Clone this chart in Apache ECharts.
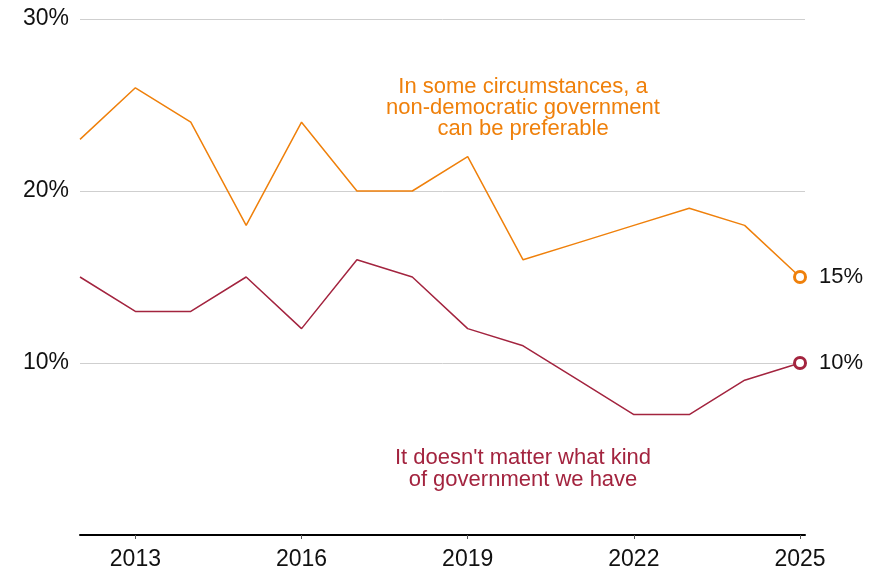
<!DOCTYPE html>
<html>
<head>
<meta charset="utf-8">
<script src="https://cdn.jsdelivr.net/npm/echarts@6/dist/echarts.min.js"></script>
<style>
  html, body { margin: 0; padding: 0; background: #fff; }
  #chart { width: 881px; height: 571px; }
</style>
</head>
<body>
<div id="chart"></div>
<script>
// Survey years
const years = [2012, 2013, 2014, 2015, 2016, 2017, 2018, 2019, 2020, 2021, 2022, 2023, 2024, 2025];
// "In some circumstances, a non-democratic government can be preferable" (%)
const nonDemocratic = [23, 26, 24, 18, 24, 20, 20, 22, 16, 17, 18, 19, 18, 15];
// "It doesn't matter what kind of government we have" (%)
const doesntMatter = [15, 13, 13, 15, 12, 16, 15, 12, 11, 9, 7, 7, 9, 10];
// Axis labels
const xTickYears = [2013, 2016, 2019, 2022, 2025];
const yTicks = [0, 10, 20, 30];

const ORANGE = '#EF800B';
const CRIMSON = '#A3243F';
const FONT = '"Liberation Sans", Arial, Helvetica, sans-serif';

function buildData(values, color) {
  return values.map((v, i) => {
    const isLast = i === values.length - 1;
    if (!isLast) return { value: [years[i], v], symbol: 'none' };
    return {
      value: [years[i], v],
      symbol: 'circle',
      symbolSize: 11,
      itemStyle: { color: '#fff', borderColor: color, borderWidth: 3 },
      label: {
        show: true,
        position: 'right',
        distance: 12,
        formatter: p => p.value[1] + '%',
        color: '#111',
        fontSize: 22,
        fontFamily: FONT
      }
    };
  });
}

const chart = echarts.init(document.getElementById('chart'), null, { renderer: 'canvas' });
chart.setOption({
  animation: false,
  backgroundColor: '#fff',
  grid: { left: 80, right: 76, top: 19, bottom: 36, containLabel: false },
  xAxis: {
    type: 'value',
    min: 2012,
    max: 2025.09,
    axisLine: { show: true, lineStyle: { color: '#000', width: 2 } },
    axisTick: { show: true, customValues: xTickYears, length: 4, lineStyle: { color: '#555', width: 1 } },
    axisLabel: {
      customValues: xTickYears,
      formatter: v => String(v),
      color: '#111',
      fontSize: 23,
      fontFamily: FONT,
      margin: 13
    },
    splitLine: { show: false }
  },
  yAxis: {
    type: 'value',
    min: yTicks[0],
    max: yTicks[yTicks.length - 1],
    interval: 10,
    axisLine: { show: false },
    axisTick: { show: false },
    axisLabel: {
      formatter: v => (v === 0 ? '' : v + '%'),
      color: '#111',
      fontSize: 23,
      fontFamily: FONT,
      margin: 11,
      padding: [2, 0, 0, 0]
    },
    splitLine: { show: true, lineStyle: { color: '#cfcfcf', width: 1 } }
  },
  series: [
    {
      type: 'line',
      name: 'non-democratic',
      data: buildData(nonDemocratic, ORANGE),
      lineStyle: { color: ORANGE, width: 1.5 },
      itemStyle: { color: ORANGE },
      z: 3
    },
    {
      type: 'line',
      name: 'doesnt-matter',
      data: buildData(doesntMatter, CRIMSON),
      lineStyle: { color: CRIMSON, width: 1.5 },
      itemStyle: { color: CRIMSON },
      z: 3
    }
  ],
  graphic: [
    {
      type: 'text',
      x: 523,
      y: 76,
      style: {
        text: 'In some circumstances, a\nnon-democratic government\ncan be preferable',
        fill: ORANGE,
        font: '22px ' + FONT,
        lineHeight: 21,
        textAlign: 'center',
        textVerticalAlign: 'top'
      }
    },
    {
      type: 'text',
      x: 523,
      y: 447,
      style: {
        text: "It doesn't matter what kind\nof government we have",
        fill: CRIMSON,
        font: '22px ' + FONT,
        lineHeight: 22,
        textAlign: 'center',
        textVerticalAlign: 'top'
      }
    }
  ]
});
</script>
</body>
</html>
